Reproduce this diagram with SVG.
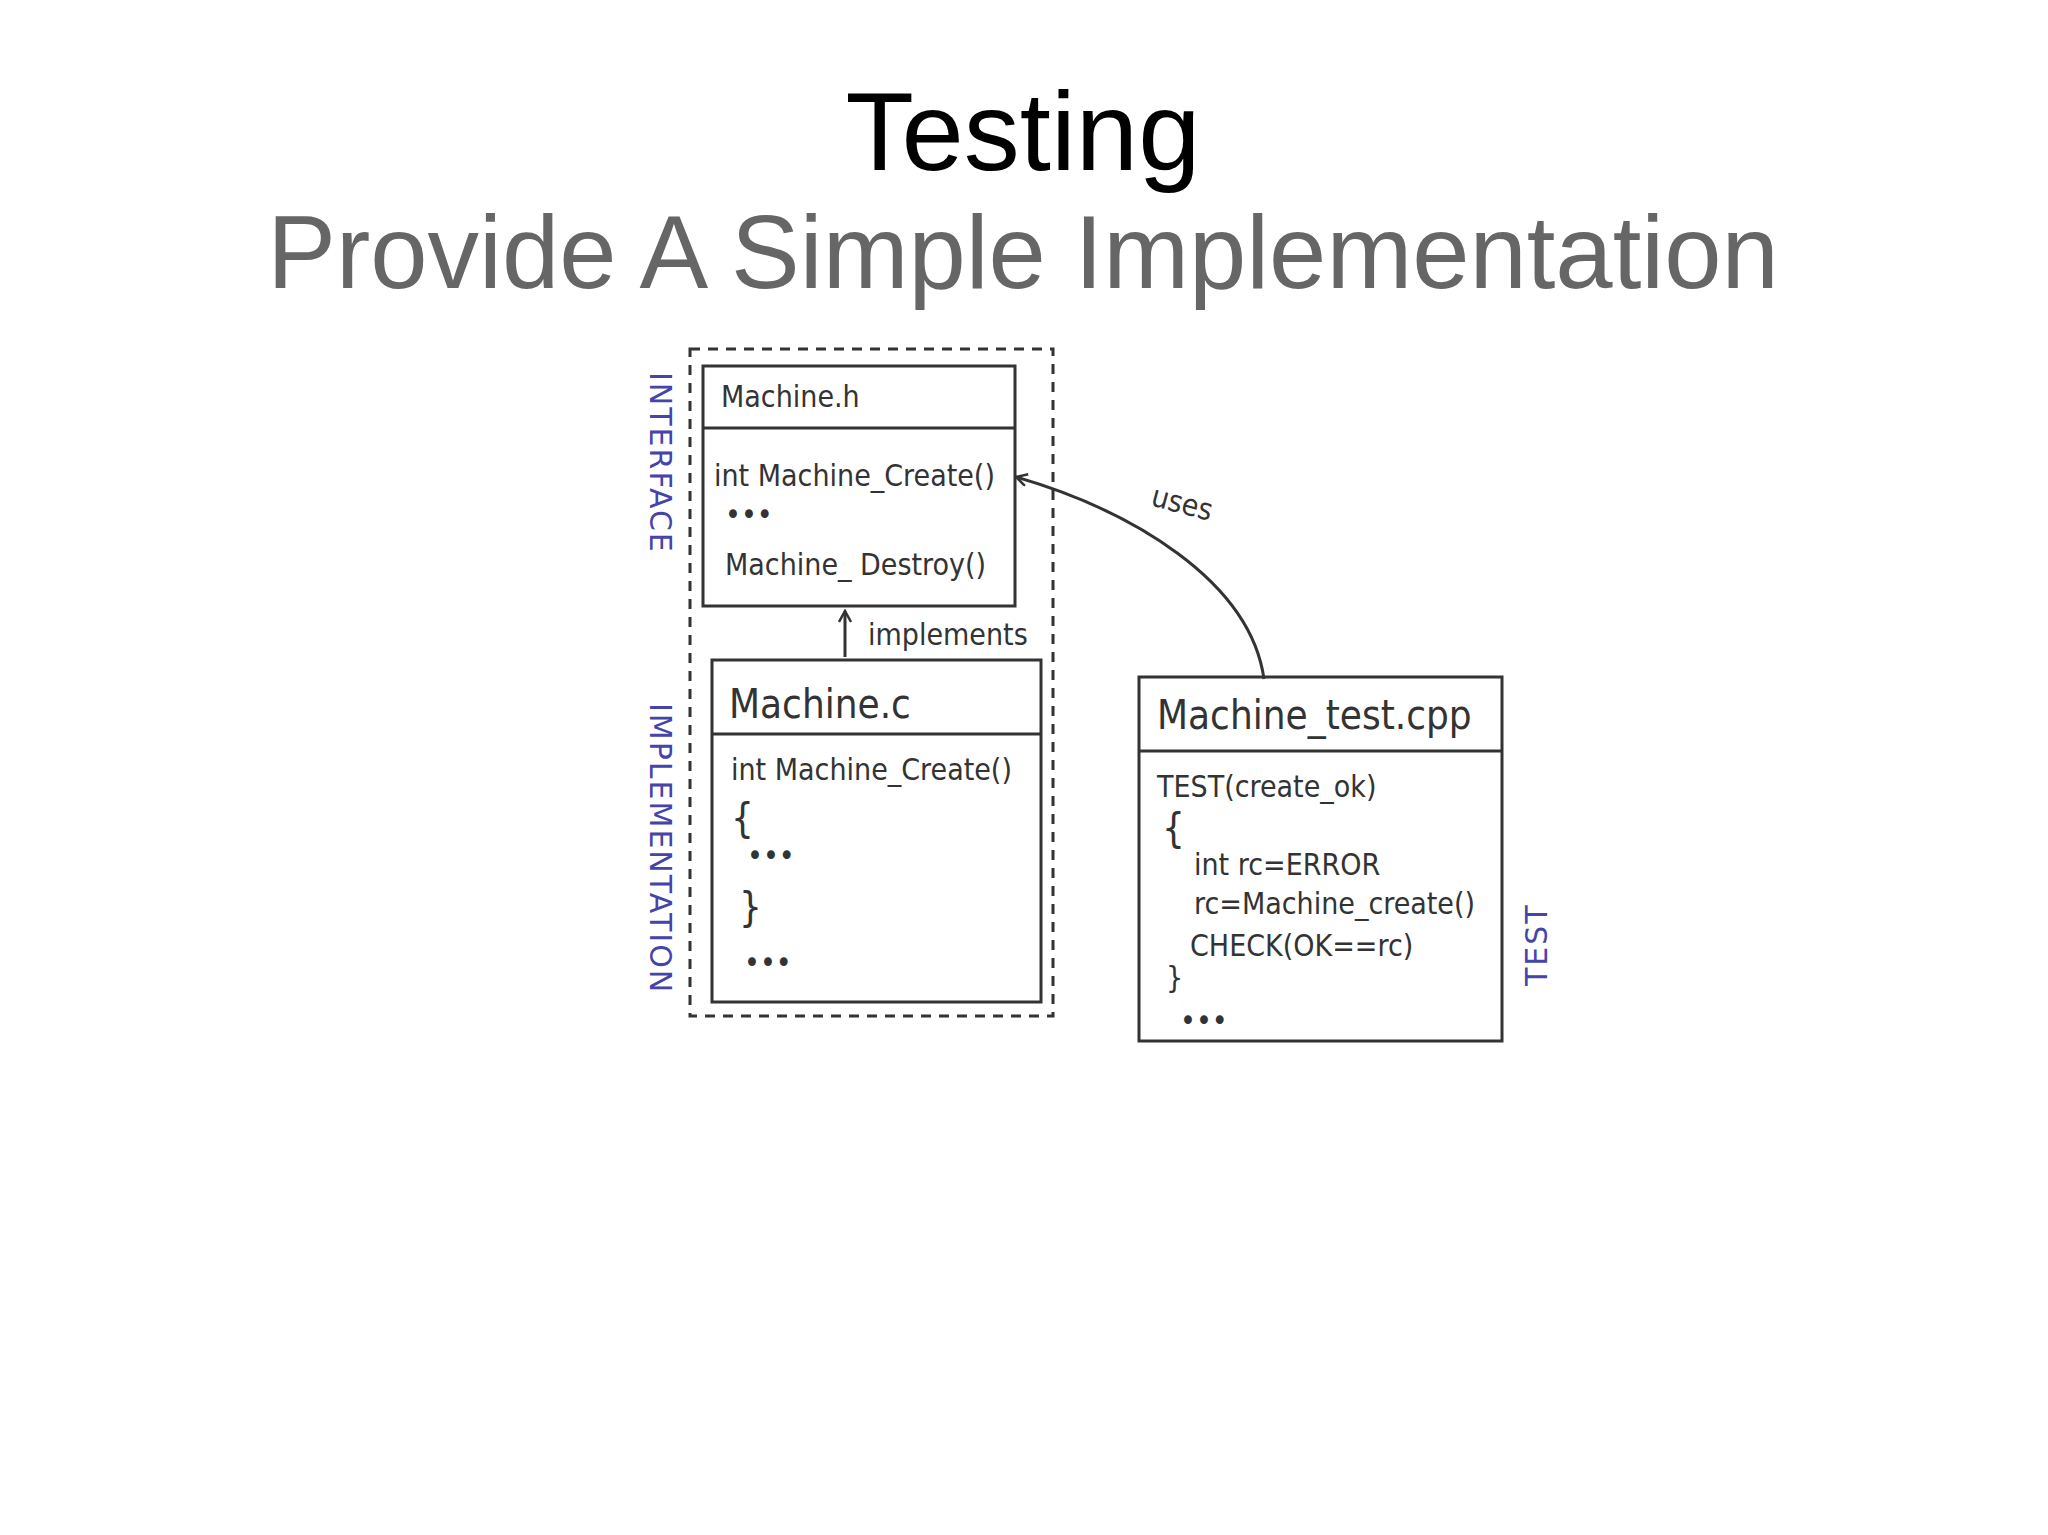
<svg xmlns="http://www.w3.org/2000/svg" width="2048" height="1535" viewBox="0 0 2048 1535">
<style>
.b{fill:none;stroke:#333;stroke-width:3}
.t{font-family:"DejaVu Sans Condensed","DejaVu Sans",sans-serif;fill:#333;font-size:30px}
.L{font-size:40px}
.v{font-family:"DejaVu Sans",sans-serif;fill:#4444aa;font-size:30px;letter-spacing:2px}
</style>
<defs><marker id="a" markerWidth="14" markerHeight="14" refX="12" refY="7" orient="auto" markerUnits="userSpaceOnUse"><path d="M1,1 L12,7 L1,13" fill="none" stroke="#333" stroke-width="2.5"/></marker></defs>
<rect width="2048" height="1535" fill="#fff"/>
<text x="1023" y="170" text-anchor="middle" font-family="Liberation Sans,sans-serif" font-size="112" fill="#000">Testing</text>
<text x="1023" y="288" text-anchor="middle" font-family="Liberation Sans,sans-serif" font-size="103" fill="#666">Provide A Simple Implementation</text>
<rect x="690" y="349" width="363" height="667" fill="none" stroke="#333" stroke-width="3" stroke-dasharray="10,8"/>
<g id="machine_h"><rect class="b" x="703" y="366" width="312" height="240"/><line class="b" x1="703" y1="428" x2="1015" y2="428"/>
<text class="t" x="721" y="407">Machine.h</text><text class="t" x="714" y="486">int Machine_Create()</text><text class="t" x="725" y="525">•••</text><text class="t" x="725" y="575">Machine_ Destroy()</text></g>
<g id="machine_c"><rect class="b" x="712" y="660" width="329" height="342"/><line class="b" x1="712" y1="734" x2="1041" y2="734"/>
<text class="t L" x="729" y="718">Machine.c</text><text class="t" x="731" y="780">int Machine_Create()</text><text class="t L" x="731" y="832">{</text><text class="t" x="747" y="866">•••</text><text class="t L" x="739" y="921">}</text><text class="t" x="744" y="973">•••</text></g>
<g id="machine_test"><rect class="b" x="1139" y="677" width="363" height="364"/><line class="b" x1="1139" y1="751" x2="1502" y2="751"/>
<text class="t L" x="1157" y="729">Machine_test.cpp</text><text class="t" x="1157" y="797">TEST(create_ok)</text><text class="t L" x="1162" y="842">{</text><text class="t" x="1194" y="875">int rc=ERROR</text><text class="t" x="1194" y="914">rc=Machine_create()</text><text class="t" x="1190" y="956">CHECK(OK==rc)</text><text class="t" x="1166" y="988">}</text><text class="t" x="1180" y="1031">•••</text></g>
<text class="v" transform="translate(650,372) rotate(90)">INTERFACE</text>
<text class="v" transform="translate(650,703) rotate(90)" font-size="25">IMPLEMENTATION</text>
<text class="v" transform="translate(1547,986) rotate(-90)">TEST</text>
<g id="connectors">
<path class="b" d="M1264,679 C1250,580 1130,510 1016,477" marker-end="url(#a)"/>
<text class="t" x="1150" y="515" transform="rotate(15 1188 509)">uses</text>
<line class="b" x1="845" y1="657" x2="845" y2="611" marker-end="url(#a)"/>
<text class="t" x="868" y="645">implements</text>
</g>
</svg>
